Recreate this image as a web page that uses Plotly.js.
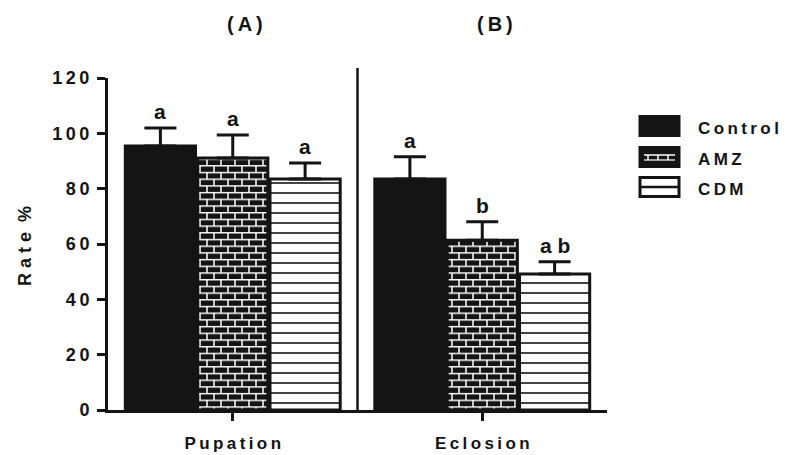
<!DOCTYPE html>
<html>
<head>
<meta charset="utf-8">
<script src="https://cdn.plot.ly/plotly-3.0.1.min.js"></script>
<style>html,body{margin:0;padding:0;background:#fff;} #chart{width:787px;height:455px;}</style>
</head>
<body>
<div id="chart"></div>
<script>
// ---- data ----
const categories = ['Pupation', 'Eclosion'];
const xTickText = ['P\u2009u\u2009p\u2009a\u2009t\u2009i\u2009o\u2009n', 'E\u2009c\u2009l\u2009o\u2009s\u2009i\u2009o\u2009n'];
const seriesNames = ['Control', 'AMZ', 'CDM'];
const legendText = ['C\u2009o\u2009n\u2009t\u2009r\u2009o\u2009l', 'A\u2009M\u2009Z', 'C\u2009D\u2009M'];
const controlVals = [95.4, 83.5];
const controlErr = [6.5, 8.0];
const amzVals = [91.1, 61.4];
const amzErr = [8.3, 6.6];
const cdmVals = [83.5, 49.2];
const cdmErr = [5.8, 4.4];
const controlLetters = ['a', 'a'];
const amzLetters = ['a', 'b'];
const cdmLetters = ['a', 'a b'];
const yTickVals = [0, 20, 40, 60, 80, 100, 120];
const yTickText = ['0', '2\u20090', '4\u20090', '6\u20090', '8\u20090', '1\u20090\u20090', '1\u20092\u20090'];
const panelTitles = ['(\u2009A\u2009)', '(\u2009B\u2009)'];
const yTitle = 'R a t e  %';

// ---- layout helpers ----
const W = 787, H = 455;
const M = {l: 108, r: 180, t: 78, b: 45};
const PW = W - M.l - M.r, PH = H - M.t - M.b;
const px2x = p => (p - M.l) / PW;
const px2y = p => (H - M.b - p) / PH;
const INK = '#141414';
const FONT = 'Liberation Sans, Arial, Helvetica, sans-serif';
const bargap = 0.13;
const xIdx = categories.map((c, i) => i);

const series = [
  {vals: controlVals, err: controlErr, letters: controlLetters, color: INK, pattern: {shape: ''}},
  {vals: amzVals, err: amzErr, letters: amzLetters, color: INK, pattern: {shape: '+', fgcolor: '#ffffff', bgcolor: INK, size: 10, solidity: 0.15}},
  {vals: cdmVals, err: cdmErr, letters: cdmLetters, color: '#ffffff', pattern: {shape: '-', fgcolor: INK, bgcolor: '#ffffff', size: 10, solidity: 0.16}}
];

const traces = series.map((s, k) => ({
  type: 'bar',
  name: seriesNames[k],
  x: xIdx,
  y: s.vals,
  marker: {color: s.color, line: {color: INK, width: 3}, pattern: s.pattern},
  error_y: {type: 'data', symmetric: false, array: s.err, arrayminus: s.err.map(() => 0), color: INK, thickness: 3, width: 16},
  showlegend: false,
  hoverinfo: 'skip'
}));

const annotations = [];
const bw = (1 - bargap) / 3;
series.forEach((s, k) => {
  s.letters.forEach((t, i) => {
    annotations.push({
      x: xIdx[i] + (k - 1) * bw, y: s.vals[i] + s.err[i], xref: 'x', yref: 'y',
      text: t, showarrow: false, yanchor: 'bottom', yshift: 3,
      font: {family: FONT, size: 21, color: INK, weight: 'bold'}
    });
  });
});
// panel titles
panelTitles.forEach((t, i) => {
  annotations.push({
    x: xIdx[i] + 0.05, y: px2y(24), xref: 'x', yref: 'paper', text: t, showarrow: false,
    yanchor: 'middle', font: {family: FONT, size: 20, color: INK, weight: 'bold'}
  });
});
// y title
annotations.push({
  x: px2x(25), y: px2y(246), xref: 'paper', yref: 'paper', text: yTitle, textangle: -90,
  showarrow: false, xanchor: 'center', yanchor: 'middle',
  font: {family: FONT, size: 18, color: INK, weight: 'bold'}
});

// custom legend
const legY = [126, 157, 187];
const shapes = [
  {type: 'line', xref: 'paper', yref: 'paper', x0: 0.5, x1: 0.5, y0: 0, y1: px2y(68), line: {color: INK, width: 2.5}}
];
const bx0 = px2x(640), bx1 = px2x(679);
legY.forEach((cy, k) => {
  annotations.push({
    x: px2x(696), y: px2y(cy + 2), xref: 'paper', yref: 'paper', text: legendText[k], showarrow: false,
    xanchor: 'left', yanchor: 'middle', font: {family: FONT, size: 17, color: INK, weight: 'bold'}
  });
  const y0 = px2y(cy + 9.5), y1 = px2y(cy - 9.5);
  shapes.push({type: 'rect', xref: 'paper', yref: 'paper', x0: bx0, x1: bx1, y0: y0, y1: y1,
    fillcolor: k === 2 ? '#ffffff' : INK, line: {color: INK, width: 3}});
  if (k === 1) {
    shapes.push({type: 'line', xref: 'paper', yref: 'paper', x0: px2x(644), x1: px2x(675), y0: px2y(cy - 2), y1: px2y(cy - 2), line: {color: '#fff', width: 1.5}});
    [648, 658, 668].forEach(p => shapes.push({type: 'line', xref: 'paper', yref: 'paper', x0: px2x(p), x1: px2x(p), y0: px2y(cy - 2), y1: px2y(cy + 3), line: {color: '#fff', width: 1.5}}));
    shapes.push({type: 'line', xref: 'paper', yref: 'paper', x0: px2x(644), x1: px2x(675), y0: px2y(cy + 3), y1: px2y(cy + 3), line: {color: '#fff', width: 1.2}});
  }
  if (k === 2) {
    shapes.push({type: 'line', xref: 'paper', yref: 'paper', x0: bx0, x1: bx1, y0: px2y(cy), y1: px2y(cy), line: {color: INK, width: 2.5}});
  }
});

const layout = {
  width: W, height: H,
  margin: M,
  paper_bgcolor: '#fff', plot_bgcolor: '#fff',
  barmode: 'group', bargap: bargap, bargroupgap: 0.03,
  showlegend: false,
  font: {family: FONT, color: INK},
  xaxis: {
    range: [-0.5, 1.5], tickvals: xIdx, ticktext: xTickText,
    showline: true, linewidth: 3, linecolor: INK, ticks: 'outside', ticklen: 8, tickwidth: 3, tickcolor: INK,
    showgrid: false, zeroline: false, fixedrange: true,
    tickfont: {family: FONT, size: 17, color: INK, weight: 'bold'}, ticklabelstandoff: 8
  },
  yaxis: {
    range: [0, 120], tickvals: yTickVals, ticktext: yTickText,
    showline: true, linewidth: 3, linecolor: INK, ticks: 'outside', ticklen: 8, tickwidth: 3, tickcolor: INK,
    showgrid: false, zeroline: false, fixedrange: true,
    tickfont: {family: FONT, size: 18, color: INK, weight: 'bold'}, ticklabelstandoff: 4
  },
  annotations: annotations,
  shapes: shapes
};

Plotly.newPlot('chart', traces, layout, {staticPlot: true, displayModeBar: false}).then(gd => {
  // turn the AMZ grid pattern into a brick pattern
  const SVGNS = 'http://www.w3.org/2000/svg';
  const tr = gd.querySelectorAll('.barlayer .trace')[1];
  if (!tr) return;
  const p = tr.querySelector('.point path');
  if (!p) return;
  const fill = p.style.fill || p.getAttribute('fill') || '';
  const m = fill.match(/#([^'")]+)/);
  if (!m) return;
  const pat = document.getElementById(m[1]);
  if (!pat) return;
  const w = 14, h = 13.4;
  pat.setAttribute('width', w); pat.setAttribute('height', h);
  pat.removeAttribute('patternTransform');
  while (pat.firstChild) pat.removeChild(pat.firstChild);
  const r = document.createElementNS(SVGNS, 'rect');
  r.setAttribute('width', w); r.setAttribute('height', h); r.setAttribute('fill', INK);
  pat.appendChild(r);
  const path = document.createElementNS(SVGNS, 'path');
  path.setAttribute('d', `M0,0.75H${w}M0,${h/2+0.75}H${w}M1,0V${h/2}M${w/2+1},${h/2}V${h}`);
  path.setAttribute('stroke', '#fff'); path.setAttribute('stroke-width', '1.5'); path.setAttribute('fill', 'none');
  pat.appendChild(path);
});
</script>
</body>
</html>
